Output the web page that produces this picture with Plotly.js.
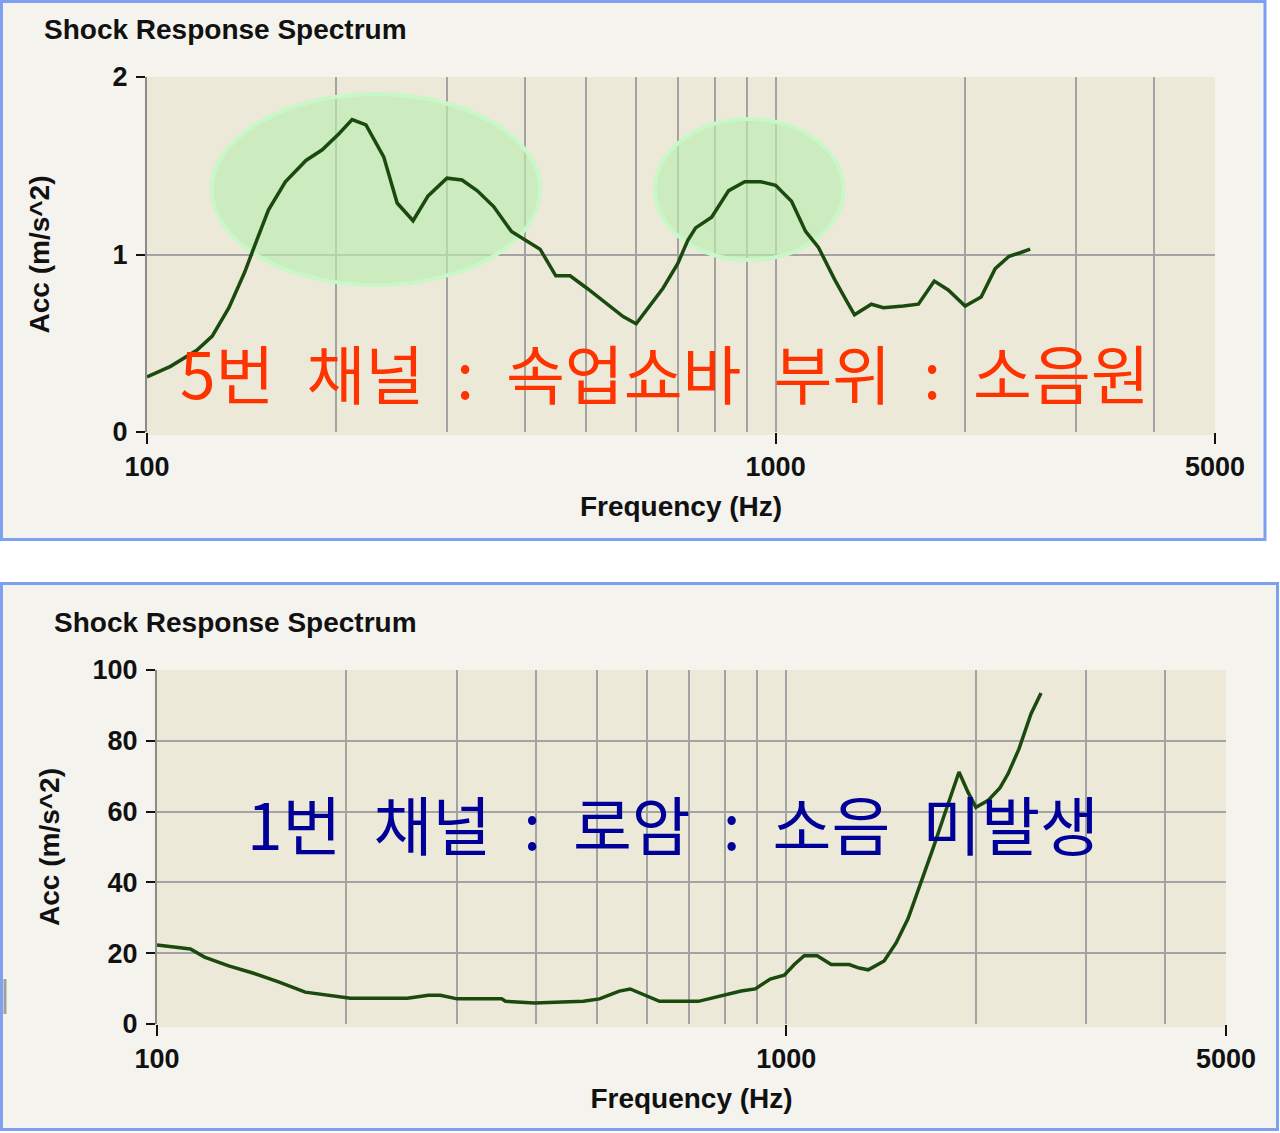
<!DOCTYPE html>
<html>
<head>
<meta charset="utf-8">
<script src="https://cdn.plot.ly/plotly-3.0.1.min.js"></script>
<style>
  html, body { margin: 0; padding: 0; background: #ffffff; }
  #chart { width: 1280px; height: 1133px; }
</style>
</head>
<body>
<div id="chart"></div>
<script>
// Channel 5 (shock absorber)
const freqTop = [100, 109, 120, 127, 135, 143, 148, 156, 166, 179, 190, 202, 212, 223, 238, 250,
  265, 280, 300, 317, 335, 356, 380, 401, 422, 447, 471, 501, 531, 572, 600, 606, 633, 662, 699,
  725, 746, 791, 842, 893, 947, 1000, 1060, 1116, 1170, 1241, 1296, 1335, 1420, 1484, 1597, 1687,
  1788, 1882, 2002, 2123, 2235, 2352, 2449, 2541];
const accTop = [0.31, 0.37, 0.46, 0.54, 0.70, 0.90, 1.04, 1.25, 1.41, 1.53, 1.59, 1.68, 1.76, 1.73,
  1.55, 1.29, 1.19, 1.33, 1.43, 1.42, 1.36, 1.27, 1.13, 1.08, 1.03, 0.88, 0.88, 0.81, 0.74, 0.65,
  0.61, 0.63, 0.72, 0.81, 0.95, 1.08, 1.15, 1.21, 1.36, 1.41, 1.41, 1.39, 1.30, 1.13, 1.04, 0.86,
  0.74, 0.66, 0.72, 0.70, 0.71, 0.72, 0.85, 0.80, 0.71, 0.76, 0.92, 0.99, 1.01, 1.03];

// Channel 1 (lower arm)
const freqBot = [100, 113, 119, 130, 142, 156, 172, 189, 203, 250, 270, 282, 300, 353, 358, 398,
  476, 505, 543, 565, 584, 629, 725, 789, 848, 893, 943, 993, 1030, 1068, 1120, 1179, 1259, 1306,
  1350, 1431, 1495, 1562, 1638, 1712, 1788, 1842, 1882, 1945, 2002, 2092, 2186, 2251, 2344, 2449, 2541];
const accBot = [22.3, 21.2, 18.9, 16.4, 14.4, 11.9, 9.0, 8.1, 7.3, 7.3, 8.1, 8.1, 7.1, 7.1, 6.4, 5.9,
  6.4, 7.1, 9.3, 9.9, 8.8, 6.4, 6.4, 8.1, 9.3, 9.9, 12.7, 13.8, 16.8, 19.3, 19.3, 16.8, 16.8, 15.8,
  15.3, 17.8, 22.9, 29.8, 39.8, 49.7, 59.6, 66.7, 71.2, 65.5, 61.2, 63.1, 66.7, 70.6, 77.7, 87.6, 93.5];

// axis ticks
const gridFreqs = [100, 200, 300, 400, 500, 600, 700, 800, 900, 1000, 2000, 3000, 4000];
const labelFreqs = [100, 1000, 5000];
const labelFreqText = ['100', '1000', '5000'];
const ticksTop = [0, 1, 2];
const ticksBot = [0, 20, 40, 60, 80, 100];

const chartTitle = 'Shock Response Spectrum';
const xTitle = 'Frequency (Hz)';
const yTitle = 'Acc (m/s^2)';
// en spaces: the original caption uses wide word gaps
const noteTop = '5번\u2002채널\u2002:\u2002속업쇼바\u2002부위\u2002:\u2002소음원';
const noteBot = '1번\u2002채널\u2002:\u2002로암\u2002:\u2002소음\u2002미발생';

const W = 1280, H = 1133;
const px = v => v / W;
const py = v => 1 - v / H;

const LINE = '#1a4a0e';
const GRID = '#a3a3a3';
const PLOTBG = '#ece9d8';
const PANEL = '#f4f3ee';
const BORDER = '#7ea0f0';

const labelFont = { family: 'Liberation Sans, Arial, sans-serif', size: 27, color: '#111', weight: 'bold' };
const titleFont = { family: 'Liberation Sans, Arial, sans-serif', size: 28, color: '#111', weight: 'bold' };
const noteFamily = 'Noto Sans CJK KR, sans-serif';

const xRange = [2, Math.log10(5000)];

function gridAxis(domain, anchor) {
  return {
    type: 'log', domain: domain, range: xRange, anchor: anchor,
    tickvals: gridFreqs, showticklabels: false, ticks: '',
    showgrid: true, gridcolor: GRID, gridwidth: 2, zeroline: false,
    showline: true, linecolor: PLOTBG, linewidth: 3, fixedrange: true
  };
}

function labelAxis(over, anchor, standoff) {
  return {
    type: 'log', overlaying: over, anchor: anchor, range: xRange, side: 'bottom',
    tickvals: labelFreqs, ticktext: labelFreqText, ticks: 'outside',
    ticklen: 11, tickwidth: 2, tickcolor: '#111', tickfont: labelFont,
    showgrid: false, zeroline: false, showline: false, fixedrange: true,
    title: { text: xTitle, font: titleFont, standoff: standoff }
  };
}

function valueAxis(domain, anchor, range, vals, standoff) {
  return {
    domain: domain, anchor: anchor, range: range, tickvals: vals,
    ticks: 'outside', ticklen: 9, tickwidth: 2, tickcolor: '#111', tickfont: labelFont,
    ticklabelstandoff: 3,
    showgrid: true, gridcolor: GRID, gridwidth: 2, zeroline: false,
    showline: true, linecolor: '#8a8a8a', linewidth: 2, fixedrange: true,
    title: { text: yTitle, font: titleFont, standoff: standoff }
  };
}

const traces = [
  { x: freqTop, y: accTop, xaxis: 'x', yaxis: 'y', type: 'scatter', mode: 'lines',
    line: { color: LINE, width: 3.5 }, hoverinfo: 'skip' },
  { x: freqBot, y: accBot, xaxis: 'x2', yaxis: 'y2', type: 'scatter', mode: 'lines',
    line: { color: LINE, width: 3.5 }, hoverinfo: 'skip' },
  { x: [], y: [], xaxis: 'x3', yaxis: 'y', type: 'scatter', hoverinfo: 'skip' },
  { x: [], y: [], xaxis: 'x4', yaxis: 'y2', type: 'scatter', hoverinfo: 'skip' }
];

const topX = [px(147), px(1215)], topY = [py(432), py(77)];
const botX = [px(157), px(1226)], botY = [py(1024), py(670)];

const shapes = [
  // panels
  { type: 'rect', xref: 'paper', yref: 'paper', layer: 'below',
    x0: px(1.5), x1: px(1265), y0: py(539.5), y1: py(1.5),
    fillcolor: PANEL, line: { color: BORDER, width: 3 } },
  { type: 'rect', xref: 'paper', yref: 'paper', layer: 'below',
    x0: px(1.5), x1: px(1277.5), y0: py(1129.5), y1: py(583.5),
    fillcolor: PANEL, line: { color: BORDER, width: 3 } },
  // plot areas
  { type: 'rect', xref: 'paper', yref: 'paper', layer: 'below',
    x0: topX[0], x1: topX[1], y0: topY[0], y1: topY[1], fillcolor: PLOTBG, line: { width: 0 } },
  { type: 'rect', xref: 'paper', yref: 'paper', layer: 'below',
    x0: botX[0], x1: botX[1], y0: botY[0], y1: botY[1], fillcolor: PLOTBG, line: { width: 0 } },
  // small grey mark on the left edge of the lower panel
  { type: 'line', xref: 'paper', yref: 'paper', x0: px(5), x1: px(5), y0: py(979), y1: py(1014),
    line: { color: '#a0a0a0', width: 3 } },
  // highlight ellipses around the two peaks (Hz / m/s^2 on the upper plot)
  { type: 'circle', xref: 'x', yref: 'y', layer: 'between',
    x0: 126.8, x1: 422, y0: 0.828, y1: 1.904,
    fillcolor: 'rgba(188,236,176,0.65)', line: { color: '#c8f7c8', width: 4 } },
  { type: 'circle', xref: 'x', yref: 'y', layer: 'between',
    x0: 642.7, x1: 1282, y0: 0.969, y1: 1.763,
    fillcolor: 'rgba(188,236,176,0.65)', line: { color: '#c8f7c8', width: 4 } }
];

const annotations = [
  { text: chartTitle, xref: 'paper', yref: 'paper', x: px(42), y: py(29),
    xanchor: 'left', yanchor: 'middle', showarrow: false, font: titleFont },
  { text: chartTitle, xref: 'paper', yref: 'paper', x: px(52), y: py(622),
    xanchor: 'left', yanchor: 'middle', showarrow: false, font: titleFont },
  { text: noteTop, xref: 'paper', yref: 'paper', x: px(665), y: py(371),
    xanchor: 'center', yanchor: 'middle', showarrow: false,
    font: { family: noteFamily, size: 64, color: '#ff3300' } },
  { text: noteBot, xref: 'paper', yref: 'paper', x: px(673), y: py(822),
    xanchor: 'center', yanchor: 'middle', showarrow: false,
    font: { family: noteFamily, size: 64, color: '#000099' } }
];

const layout = {
  width: W, height: H,
  margin: { l: 0, r: 0, t: 0, b: 0 },
  paper_bgcolor: '#ffffff',
  plot_bgcolor: 'rgba(0,0,0,0)',
  showlegend: false,
  xaxis: gridAxis(topX, 'y'),
  xaxis2: gridAxis(botX, 'y2'),
  xaxis3: labelAxis('x', 'y', 14),
  xaxis4: labelAxis('x2', 'y2', 14),
  yaxis: valueAxis(topY, 'x', [0, 2], ticksTop, 55),
  yaxis2: valueAxis(botY, 'x2', [0, 100], ticksBot, 25),
  shapes: shapes,
  annotations: annotations
};

Plotly.newPlot('chart', traces, layout, { staticPlot: true, displayModeBar: false });
</script>
</body>
</html>
